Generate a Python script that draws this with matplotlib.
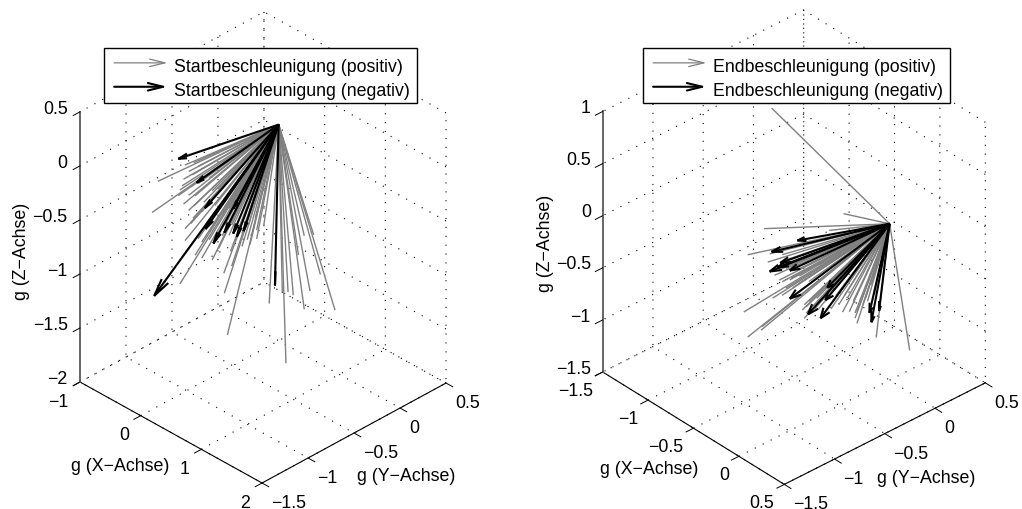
import matplotlib
matplotlib.use("Agg")
import matplotlib.pyplot as plt
from matplotlib.lines import Line2D
from matplotlib.legend_handler import HandlerBase
from matplotlib.patches import FancyArrowPatch
from matplotlib.transforms import Affine2D
from mpl_toolkits.mplot3d import proj3d

plt.rcParams['font.family'] = ['Liberation Sans', 'DejaVu Sans']
plt.rcParams['font.size'] = 12.75

W, H = 1022, 510

# Left: Startbeschleunigung
start_pos_x = [-.49,-.54,-.31,.08,.56,.42,.96,.71,.76,.62,.58,.53,.84,.79,.71,.06,.05,-.13,-.05,-.18,-.27,-.20,-.24,-.28,-.32,-.31,-.29,-.28,-.24,-.27,-.20,-.07,.20,.12,.27,.32,.24,.10,-.10,-.02,.06,.17,.25,.31,-.18,-.11,-.20,-.02,-.16,-.07,-.29,.01,.38,-.27,-.13,.66,.04,.15,
               -.05,.01,.09,.12,.20,.28,.23,.32,.04,-.13,-.07,-.16,-.22,-.24,-.22,-.21,-.16,-.05,.01,.09]
start_pos_y = [-.99,-1.02,-.87,-.61,-.29,-.38,-.02,-.19,-.16,-.25,-.28,-.31,-.10,-.14,-.19,-.63,-.63,-.75,-.69,-.79,-.84,-.80,-.82,-.85,-.88,-.87,-.86,-.85,-.82,-.84,-.79,-.71,-.53,-.59,-.49,-.45,-.50,-.59,-.73,-.68,-.62,-.55,-.49,-.46,-.79,-.74,-.79,-.68,-.77,-.71,-.86,-.66,-.41,-.84,-.75,-.22,-.64,-.57,
               -.69,-.66,-.60,-.59,-.53,-.48,-.51,-.45,-.64,-.75,-.71,-.77,-.81,-.82,-.81,-.80,-.77,-.69,-.66,-.60]
start_pos_z = [-.22,-.51,-1.17,-1.64,-1.90,-1.35,-1.41,-1.40,-1.23,-1.27,-1.24,-1.24,-1.08,-.71,-.72,-1.25,-1.07,-.93,-.95,-.90,-.77,-.56,-.49,-.43,-.35,-.30,-.26,-.20,-.13,-.07,-.05,-.76,-.82,-1.00,-.80,-.75,-.76,-.87,-.62,-.59,-.62,-.66,-.62,-.56,-.35,-.41,-.45,-.44,-.24,-.19,-.92,-.84,-.61,-.66,-.78,-.90,-.72,-.76,
               -.56,-.69,-.72,-.62,-.70,-.72,-.59,-.67,-.53,-.50,-.69,-.75,-.61,-.35,-.27,-.16,-.08,-.31,-.28,-.47]
start_neg_x = [-.32,-.17,-.11,-.52,-.03,-.10,.06,.13,.16,.21,.47,.13]
start_neg_y = [-.88,-.78,-.73,-1.01,-.69,-.73,-.63,-.58,-.56,-.52,-.35,-.58]
start_neg_z = [-.01,-.23,-.47,-1.28,-.79,-.66,-.69,-.70,-.73,-.68,-1.18,-.47]

# Right: Endbeschleunigung
end_pos_x = [-.78,-.43,-.82,-.90,-.92,-.90,-.10,-.27,-.62,-.36,-.80,-.77,-.74,-.73,-.69,-.65,-.83,-.63,-.60,-.43,-.37,-.42,-.41,-.33,-.31,-.55,-.49,-.28,-.37,-.61,-.79,-.75,-.50,-.71,-.66,-.71,-.78,-.53,-.46,-.32,-.55,-.62,-.71,-.40,
             -.69,-.64,-.60,-.56,-.60,-.63,-.73,-.48,-.45,-.50,-.38,-.36,-.32,-.29,-.68,-.73,-.83,-.61,-.57]
end_pos_y = [-.47,-.07,-.51,-.60,-.62,-.60,.29,.11,-.29,.00,-.49,-.45,-.43,-.41,-.36,-.32,-.53,-.30,-.26,-.08,-.01,-.07,-.05,.03,.06,-.21,-.14,.10,-.01,-.28,-.48,-.44,-.15,-.39,-.33,-.39,-.46,-.19,-.12,.05,-.21,-.29,-.39,-.04,
             -.37,-.32,-.26,-.22,-.26,-.30,-.41,-.13,-.10,-.15,-.02,.00,.05,.08,-.35,-.41,-.52,-.28,-.23]
end_pos_z = [.92,-.10,-.24,-.49,-1.04,-1.28,-1.41,-1.29,-1.10,-1.15,-.56,-.69,-.73,-.75,-.72,-.77,-1.21,-1.02,-.94,-1.04,-1.05,-.88,-.91,-.97,-.94,-1.01,-1.01,-.88,-1.10,-1.05,-.48,-.64,-.26,-.62,-.64,-.81,-.91,-.81,-.88,-.69,-.59,-.97,-.54,-1.04,
             -.73,-.69,-.75,-.91,-.59,-.53,-.49,-.94,-.97,-.75,-.94,-1.04,-.91,-.78,-.81,-.88,-1.18,-.99,-1.01]
end_neg_x = [-.65,-.78,-.75,-.79,-.69,-.69,-.60,-.54,-.52,-.51,-.29,-.25,-.30,-.74]
end_neg_y = [-.33,-.47,-.44,-.48,-.37,-.37,-.27,-.20,-.17,-.16,.08,.12,.07,-.42]
end_neg_z = [-.35,-.46,-.61,-.65,-.64,-.91,-1.06,-1.10,-.93,-.81,-1.14,-1.03,-1.05,-.57]

start_xticks = [-1, 0, 1, 2]
start_yticks = [-1.5, -1, -.5, 0, .5]
start_zticks = [-2, -1.5, -1, -.5, 0, .5]
end_xticks = [-1.5, -1, -.5, 0, .5]
end_yticks = [-1.5, -1, -.5, 0, .5]
end_zticks = [-1.5, -1, -.5, 0, .5, 1]


def fmt(v):
    return f"{v:g}".replace('-', '\u2212')


class ArrowHandler(HandlerBase):
    def create_artists(self, legend, orig, xd, yd, width, height, fontsize, trans):
        y = height / 2 - yd - 0.7
        a = FancyArrowPatch((-xd + 2.2, y), (width - xd - 2.2, y),
                            arrowstyle='->,head_length=11,head_width=2.7',
                            mutation_scale=1, color=orig.get_color(),
                            lw=orig.get_linewidth(), shrinkA=0, shrinkB=0,
                            transform=trans)
        return [a]


def project(ax, x, y, z):
    xs, ys, _ = proj3d.proj_transform(x, y, z, ax.get_proj())
    return ax.transData.transform((xs, ys))


def shift_text(ax, t, dx, dy):
    # Axis3D resets the text transform on each draw, so the pixel offset goes in at draw time.
    tr = ax.transData + Affine2D().translate(dx, dy)
    base = t.draw

    def draw(renderer):
        t._transform = tr
        base(renderer)
    t.draw = draw


def place_label(ax, label, target):
    b = label.get_window_extent()
    cx, cy = (b.x0 + b.x1) / 2, (b.y0 + b.y1) / 2
    shift_text(ax, label, target[0] - cx, (H - target[1]) - cy)


def panel(xt, yt, zt, pos, neg, names, azim, elev, h, left, right, legend_xy, label_xy, tick_shift):
    S = 500
    ax = fig.add_axes([(left[0] + right[0]) / 2 / W - S / 2 / W, 0, S / W, S / H], projection='3d')
    ax.patch.set_visible(False)
    ax.computed_zorder = False
    ax.set_proj_type('ortho')
    ax.view_init(elev=elev, azim=azim)
    ax.set_xlim(xt[0], xt[-1], view_margin=0)
    ax.set_ylim(yt[0], yt[-1], view_margin=0)
    ax.set_zlim(zt[0], zt[-1], view_margin=0)
    ax.set_xticks(xt, labels=[fmt(v) for v in xt])
    ax.set_yticks(yt, labels=[fmt(v) for v in yt])
    ax.set_zticks(zt, labels=[fmt(v) for v in zt])
    for axis in (ax.xaxis, ax.yaxis, ax.zaxis):
        axis.set_pane_color((1, 1, 1, 0))
        axis.pane.set_edgecolor((1, 1, 1, 0))
        axis.line.set_linewidth(0.8)
        axis.line.set_color('black')
        axis._axinfo['grid'].update(color='black', linewidth=0.8, linestyle=(0, (1, 7)))
        axis._axinfo['tick'].update(inward_factor=0.46, outward_factor=0.0)
        axis._axinfo['tick']['linewidth'] = {True: 0.7, False: 0.5}
        axis.set_rotate_label(False)
    ax.zaxis.line.set_linewidth(1.4)
    ax.zaxis.line.set_color('0.4')
    ax.zaxis.set_ticks_position('lower')
    ax.zaxis.set_label_position('lower')
    ax.set_xlabel('g (X\u2212Achse)')
    ax.set_ylabel('g (Y\u2212Achse)')
    ax.set_zlabel('g (Z\u2212Achse)', rotation=90)
    ax.tick_params(axis='x', pad=-1)
    ax.tick_params(axis='y', pad=-1)
    ax.tick_params(axis='z', pad=-2.2)
    for t in ax.get_xticklabels():
        t.set_ha('right')
    for t in ax.get_yticklabels():
        t.set_ha('left')
    for t in ax.get_zticklabels():
        t.set_ha('right')
        t.set_va('bottom')

    n = len(pos[0])
    ax.quiver([0] * n, [0] * n, [0] * n, pos[0], pos[1], pos[2], color='0.5',
              linewidth=1.0, arrow_length_ratio=0, zorder=2)
    n = len(neg[0])
    ax.quiver([0] * n, [0] * n, [0] * n, neg[0], neg[1], neg[2], color='black',
              linewidth=1.5, arrow_length_ratio=0.09, zorder=3)

    # place the data box on the figure
    ax.set_box_aspect((1, 1, h), zoom=1)
    ax.apply_aspect()
    a = project(ax, xt[0], yt[0], zt[0])
    b = project(ax, xt[-1], yt[-1], zt[0])
    zoom = (right[0] - left[0]) / (b[0] - a[0])
    ax.set_box_aspect((1, 1, h), zoom=zoom)
    ax.apply_aspect()
    a = project(ax, xt[0], yt[0], zt[0])
    p = ax.get_position()
    ax.set_position([p.x0 + (left[0] - a[0]) / W, p.y0 + ((H - left[1]) - a[1]) / H, p.width, p.height])

    handles = [Line2D([], [], color='0.5', lw=0.9), Line2D([], [], color='black', lw=1.5)]
    leg = ax.legend(handles, names, loc='upper left', bbox_to_anchor=(legend_xy[0] / W, 1 - legend_xy[1] / H),
                    bbox_transform=fig.transFigure, borderaxespad=0, borderpad=0.4,
                    handlelength=3.36, handletextpad=0.2, labelspacing=0.39,
                    fancybox=False, framealpha=1, edgecolor='black',
                    handler_map={Line2D: ArrowHandler()})
    leg.get_frame().set_linewidth(1.0)
    leg.set_zorder(10)
    for t in leg.get_texts():
        t.set_y(-3)

    for labels, shift in zip((ax.get_xticklabels(), ax.get_yticklabels(), ax.get_zticklabels()), tick_shift):
        for t in labels:
            shift_text(ax, t, *shift)

    fig.canvas.draw()
    place_label(ax, ax.xaxis.label, label_xy[0])
    place_label(ax, ax.yaxis.label, label_xy[1])
    place_label(ax, ax.zaxis.label, label_xy[2])
    return ax


fig = plt.figure(figsize=(W / 100, H / 100), dpi=100)
panel(start_xticks, start_yticks, start_zticks,
      (start_pos_x, start_pos_y, start_pos_z), (start_neg_x, start_neg_y, start_neg_z),
      ['Startbeschleunigung (positiv)', 'Startbeschleunigung (negativ)'],
      -44.7, 33.3, 1.249, (80, 383), (446, 383), (104, 49),
      [(120, 466.5), (406, 477), (21.5, 251)],
      [(-5, 3), (2, 3), (-1, -5)])
panel(end_xticks, end_yticks, end_zticks,
      (end_pos_x, end_pos_y, end_pos_z), (end_neg_x, end_neg_y, end_neg_z),
      ['Endbeschleunigung (positiv)', 'Endbeschleunigung (negativ)'],
      -42.1, 34.0, 1.16, (602.7, 373), (985.3, 385), (643, 49),
      [(648.7, 470), (926, 479), (546, 243)],
      [(-2.5, 4), (2, 3), (0, -5)])
fig.savefig('out.png', dpi=100)
